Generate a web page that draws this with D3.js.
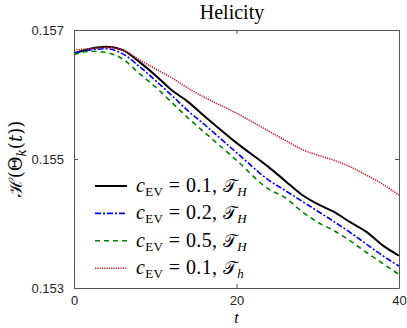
<!DOCTYPE html>
<html>
<head>
<meta charset="utf-8">
<script src="https://cdn.jsdelivr.net/npm/d3@7"></script>
<style>
  body { margin: 0; background: #fff; }
  svg { display: block; }
</style>
</head>
<body>
<div id="chart"></div>
<script>
var width = 407, height = 328;

// data
var tVals = [0, 2, 4, 6, 8, 10, 12, 14, 16, 20, 24, 26, 28, 30, 32, 34, 36, 38, 40];
var blackH = [0.15664, 0.15671, 0.15674, 0.15669, 0.15651, 0.15630, 0.15607, 0.15589, 0.15567, 0.15525, 0.15487, 0.15466, 0.15445, 0.15430, 0.15418, 0.15402, 0.15387, 0.15366, 0.15350];
var blueH  = [0.15664, 0.15669, 0.15671, 0.15663, 0.15644, 0.15622, 0.15599, 0.15575, 0.15554, 0.15510, 0.15467, 0.15451, 0.15435, 0.15419, 0.15403, 0.15386, 0.15368, 0.15350, 0.15334];
var greenH = [0.15662, 0.15667, 0.15665, 0.15655, 0.15633, 0.15612, 0.15588, 0.15564, 0.15542, 0.15498, 0.15453, 0.15440, 0.15419, 0.15402, 0.15389, 0.15373, 0.15355, 0.15338, 0.15321];
var redH   = [0.15669, 0.15671, 0.15673, 0.15669, 0.15654, 0.15640, 0.15626, 0.15610, 0.15596, 0.15571, 0.15543, 0.15529, 0.15515, 0.15506, 0.15498, 0.15488, 0.15475, 0.15461, 0.15444];
var cVals = ["0.1", "0.2", "0.5", "0.1"];
var subT = ["H", "H", "H", "h"];
var xTicks = [0, 20, 40];
var yTicks = [0.153, 0.155, 0.157];

var series = [
  {vals: blackH, color: "#000000", w: 2, dash: null},
  {vals: blueH, color: "#0000ff", w: 1.6, dash: "6,2,2,2"},
  {vals: greenH, color: "#008000", w: 1.6, dash: "5,4"},
  {vals: redH, color: "#c3253f", w: 1.6, dash: "1.3,1"}
];

var margin = {left: 74, right: 8, top: 30, bottom: 40};

var svg = d3.select('#chart').append('svg')
    .attr('width', width)
    .attr('height', height);

var x = d3.scaleLinear().domain([0, 40]).range([margin.left, width - margin.right]);
var y = d3.scaleLinear().domain([0.153, 0.157]).range([height - margin.bottom, margin.top]);

var axisColor = "#555";
var serif = 'Liberation Serif, Times New Roman, serif';

// curves
var line = d3.line()
    .x(function(d) { return x(d[0]); })
    .y(function(d) { return y(d[1]); })
    .curve(d3.curveMonotoneX);

series.forEach(function(s) {
  svg.append('path')
    .datum(tVals.map(function(t, i) { return [t, s.vals[i]]; }))
    .attr('fill', 'none')
    .attr('stroke', s.color)
    .attr('stroke-width', s.w)
    .attr('stroke-dasharray', s.dash)
    .attr('d', line);
});

// axes (ticks inward, full box)
var bottomAxis = d3.axisBottom(x).tickValues(xTicks).tickSizeInner(-4).tickSizeOuter(0).tickPadding(8).tickFormat(d3.format('d'));
var leftAxis = d3.axisLeft(y).tickValues(yTicks).tickSizeInner(-4).tickSizeOuter(0).tickPadding(10).tickFormat(d3.format('.3f'));
var topAxis = d3.axisTop(x).tickValues(xTicks).tickSizeInner(-4).tickSizeOuter(0).tickFormat('');
var rightAxis = d3.axisRight(y).tickValues(yTicks).tickSizeInner(-4).tickSizeOuter(0).tickFormat('');

svg.append('g').attr('transform', 'translate(0,' + y(0.153) + ')').call(bottomAxis);
svg.append('g').attr('transform', 'translate(' + x(0) + ',0)').call(leftAxis);
svg.append('g').attr('transform', 'translate(0,' + y(0.157) + ')').call(topAxis);
svg.append('g').attr('transform', 'translate(' + x(40) + ',0)').call(rightAxis);

svg.selectAll('.domain, .tick line').attr('stroke', axisColor).attr('stroke-width', 1);
svg.selectAll('.tick text')
    .attr('fill', '#262626')
    .style('font-family', 'Liberation Sans, Arial, sans-serif')
    .style('font-size', '13px');

// title
svg.append('text')
    .attr('x', 232)
    .attr('y', 19)
    .attr('text-anchor', 'middle')
    .style('font-family', serif)
    .style('font-size', '20px')
    .text('Helicity');

// x label
svg.append('text')
    .attr('x', (x(0) + x(40)) / 2)
    .attr('y', 323)
    .attr('text-anchor', 'middle')
    .style('font-family', serif)
    .style('font-style', 'italic')
    .style('font-size', '16px')
    .text('t');

// y label
var yl = svg.append('text')
    .attr('transform', 'translate(22,' + ((y(0.153) + y(0.157)) / 2) + ') rotate(-90)')
    .attr('text-anchor', 'middle')
    .style('font-family', 'DejaVu Serif, serif')
    .style('font-size', '18px');
yl.append('tspan').text('\u210B(\u0398');
yl.append('tspan').attr('font-style', 'italic').attr('font-size', '12px').attr('dy', 4).text('k');
yl.append('tspan').attr('dy', -4).text('(');
yl.append('tspan').attr('font-style', 'italic').text('t');
yl.append('tspan').text('))');

// legend
var legend = svg.append('g');
series.forEach(function(s, i) {
  var ly = 186 + i * 27.4;
  legend.append('line')
    .attr('x1', 95).attr('x2', 127)
    .attr('y1', ly).attr('y2', ly)
    .attr('stroke', s.color)
    .attr('stroke-width', s.w)
    .attr('stroke-dasharray', s.dash);
  var t = legend.append('text')
    .attr('x', 136).attr('y', ly + 6)
    .style('font-family', serif)
    .style('font-size', '20px')
    .style('letter-spacing', '0.4px');
  t.append('tspan').attr('font-style', 'italic').text('c');
  t.append('tspan').attr('font-size', '13px').attr('dy', 4).text('EV');
  t.append('tspan').attr('dy', -4).text(' = ' + cVals[i] + ', ');
  t.append('tspan').style('font-family', 'DejaVu Sans, serif').attr('font-size', '18px').text('\uD835\uDCAF');
  t.append('tspan').attr('font-style', 'italic').attr('font-size', '13px').attr('dy', 4).text(subT[i]);
});
</script>
</body>
</html>
